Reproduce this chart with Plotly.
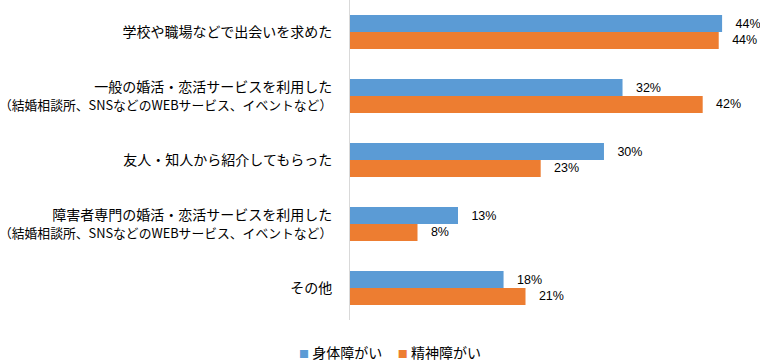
import plotly.graph_objects as go

SUB = '<span style="font-size:12.8px">%s</span>'
categories = [
    "学校や職場などで出会いを求めた",
    "一般の婚活・恋活サービスを利用した<br>" + SUB % "（結婚相談所、SNSなどのWEBサービス、イベントなど）",
    "友人・知人から紹介してもらった",
    "障害者専門の婚活・恋活サービスを利用した<br>" + SUB % "（結婚相談所、SNSなどのWEBサービス、イベントなど）",
    "その他",
]
physical = [44.1, 32.3, 30.1, 12.8, 18.2]
mental = [43.7, 41.8, 22.6, 8.0, 20.8]
series_names = ["身体障がい", "精神障がい"]
colors = ["#5B9BD5", "#ED7D31"]

fig = go.Figure()
for name, vals, col in zip(series_names, [physical, mental], colors):
    fig.add_trace(go.Bar(
        y=categories, x=vals, name=name, orientation="h",
        marker=dict(color=col, line=dict(width=0)),
        text=["\u00a0\u00a0\u00a0%.0f%%" % v for v in vals],
        textposition="outside", cliponaxis=False,
        textfont=dict(family="Liberation Sans, Arial", size=12.5, color="#000000"),
        showlegend=False,
    ))

legend_html = "\u00a0\u00a0\u00a0\u00a0\u00a0".join(
    '<span style="color:%s;font-size:10px">■</span>\u00a0%s' % (c, n)
    for n, c in zip(series_names, colors)
)
fig.add_annotation(
    text=legend_html, xref="paper", yref="paper", x=0.099, y=-0.1,
    xanchor="center", yanchor="middle", showarrow=False,
    font=dict(family="Noto Sans CJK JP", size=14, color="#000000"),
)

fig.update_layout(
    width=760, height=363,
    margin=dict(l=350, r=5, t=0, b=43),
    paper_bgcolor="white", plot_bgcolor="white",
    barmode="group", bargap=0.47, bargroupgap=0,
    font=dict(family="Noto Sans CJK JP", size=14, color="#000000"),
    xaxis=dict(range=[0, 48], showgrid=False, showticklabels=False, zeroline=False, showline=False),
    yaxis=dict(autorange="reversed", showline=True, linecolor="#D9D9D9", linewidth=1,
               ticks="", ticklabelstandoff=14, automargin=False, tickfont=dict(size=14)),
    showlegend=False,
)
fig.write_html("out.html", config={"displayModeBar": False},
               post_script="document.body.style.margin='0';")
